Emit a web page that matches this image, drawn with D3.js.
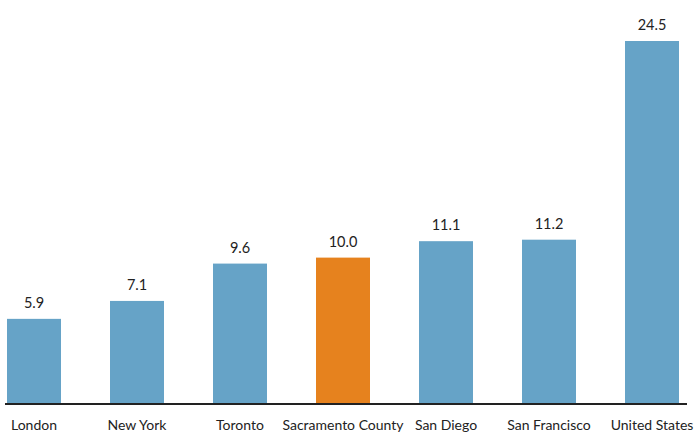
<!DOCTYPE html>
<html>
<head>
<meta charset="utf-8">
<script src="https://cdn.jsdelivr.net/npm/d3@7"></script>
<style>
  html, body { margin: 0; padding: 0; background: #fff; }
  svg { display: block; }
  text { font-family: Lato, "Open Sans", sans-serif; fill: #222; }
</style>
</head>
<body>
<svg id="chart" width="694" height="432"></svg>
<script>
const categories = ["London", "New York", "Toronto", "Sacramento County", "San Diego", "San Francisco", "United States"];
const values = [5.9, 7.1, 9.6, 10.0, 11.1, 11.2, 24.5];
const highlight = ["Sacramento County"];

const data = categories.map((c, i) => ({ cat: c, val: values[i] }));

const svg = d3.select("#chart");
const axisY = 404;

const x = d3.scaleBand()
  .domain(categories)
  .range([7, 679])
  .paddingInner(49 / 103)
  .paddingOuter(0);

const y = d3.scaleLinear()
  .domain([0, 24.5])
  .range([407, 41]);

svg.selectAll("rect.bar")
  .data(data)
  .enter().append("rect")
  .attr("class", "bar")
  .attr("x", d => x(d.cat))
  .attr("width", x.bandwidth())
  .attr("y", d => y(d.val))
  .attr("height", d => axisY - y(d.val))
  .attr("fill", d => highlight.includes(d.cat) ? "#e6821e" : "#66a3c7");

svg.selectAll("text.val")
  .data(data)
  .enter().append("text")
  .attr("class", "val")
  .attr("x", d => x(d.cat) + x.bandwidth() / 2)
  .attr("y", d => y(d.val) - 11)
  .attr("text-anchor", "middle")
  .style("font-size", "14.5px")
  .text(d => d.val.toFixed(1));

// axis
const axis = d3.axisBottom(x).tickSize(0).tickPadding(16);
const gAxis = svg.append("g")
  .attr("transform", `translate(0,${axisY})`)
  .call(axis);
gAxis.select(".domain").remove();
gAxis.selectAll("text")
  .style("font-size", "14px")
  .style("font-family", "Lato, 'Open Sans', sans-serif")
  .attr("fill", "#222");

svg.append("line")
  .attr("x1", 5).attr("x2", 687)
  .attr("y1", axisY).attr("y2", axisY)
  .attr("stroke", "#222")
  .attr("stroke-width", 2);
</script>
</body>
</html>
